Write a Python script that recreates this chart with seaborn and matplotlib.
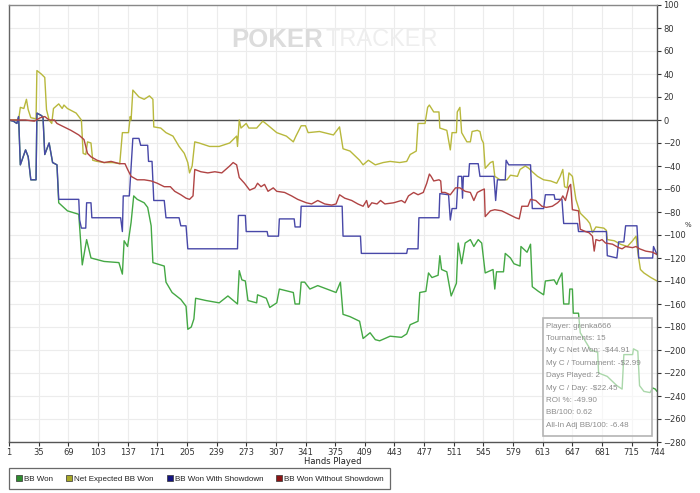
import matplotlib
matplotlib.use('Agg')
import matplotlib.pyplot as plt
import seaborn as sns
import pandas as pd
from matplotlib.lines import Line2D
from matplotlib.patches import Rectangle

# (hand, value) breakpoints
bb_won = [(1, 0), (6, -1), (10, -3), (12, 3), (14, -39), (20, -26), (23, -32), (26, -52), (32, -52), (33, 6),
          (40, 3), (42, -30), (47, -20), (51, -37), (56, -39), (58, -72), (68, -79), (81, -82), (85, -126),
          (90, -104), (95, -120), (110, -123), (127, -124), (131, -134), (133, -105), (137, -110), (141, -89),
          (144, -66), (148, -69), (156, -72), (160, -76), (164, -92), (166, -124), (179, -127), (181, -141),
          (188, -150), (198, -156), (204, -162), (206, -182), (210, -180), (213, -173), (215, -155), (227, -157),
          (242, -159), (252, -153), (263, -160), (265, -131), (268, -139), (272, -140), (275, -157), (285, -159),
          (286, -152), (296, -155), (300, -163), (308, -159), (311, -147), (327, -150), (329, -160), (334, -160),
          (336, -141), (340, -141), (346, -147), (355, -144), (376, -150), (381, -141), (384, -169), (392, -171),
          (403, -175), (407, -190), (415, -185), (421, -191), (426, -192), (438, -188), (451, -189), (457, -186),
          (461, -178), (470, -175), (472, -150), (479, -149), (482, -133), (486, -137), (493, -135), (495, -118),
          (497, -130), (503, -132), (508, -153), (513, -144), (514, -142), (516, -107), (520, -125), (524, -107),
          (530, -104), (534, -110), (539, -104), (543, -107), (547, -133), (556, -130), (558, -147), (560, -132),
          (568, -132), (570, -116), (576, -120), (580, -125), (587, -127), (588, -110), (595, -115), (599, -108),
          (601, -145), (608, -149), (614, -152), (616, -140), (626, -139), (629, -143), (631, -139), (635, -133),
          (637, -160), (643, -160), (644, -147), (647, -147), (648, -168), (654, -168), (656, -185), (668, -200),
          (676, -202), (677, -220), (687, -223), (698, -231), (704, -234), (706, -204), (716, -204), (717, -199),
          (722, -201), (724, -231), (729, -236), (736, -237), (739, -233), (742, -234), (744, -236)]

net_expected = [(1, 0), (12, 0), (14, 11), (18, 10), (21, 18), (23, 9), (26, 2), (32, 1), (33, 43), (38, 40),
                (42, 37), (44, 9), (47, 0), (50, -3), (52, 10), (58, 14), (62, 10), (64, 13), (68, 10), (78, 6),
                (84, 0), (86, -29), (89, -30), (91, -19), (95, -20), (97, -35), (102, -36), (110, -37), (120, -37),
                (128, -38), (131, -11), (138, -11), (140, 3), (141, 0), (143, 26), (150, 20), (156, 18), (162, 21),
                (166, 18), (167, -6), (175, -7), (181, -11), (189, -14), (196, -23), (202, -29), (206, -37),
                (208, -46), (211, -40), (214, -19), (219, -20), (231, -23), (242, -23), (254, -20), (262, -14),
                (263, -23), (265, 0), (267, -7), (273, -3), (276, -7), (285, -7), (292, -1), (297, -4), (308, -11),
                (319, -14), (327, -19), (330, -14), (336, -5), (341, -5), (344, -11), (357, -10), (373, -13),
                (380, -6), (384, -25), (392, -27), (403, -35), (407, -39), (413, -35), (421, -39), (430, -37),
                (438, -36), (449, -37), (457, -36), (461, -30), (468, -27), (470, -3), (478, -3), (481, 11),
                (483, 13), (488, 7), (494, 7), (495, -7), (503, -9), (507, -26), (509, -11), (514, -11), (515, 7),
                (518, 11), (520, -11), (526, -19), (530, -19), (532, -10), (538, -9), (541, -10), (543, -17),
                (545, -20), (547, -42), (553, -37), (556, -36), (558, -49), (564, -52), (572, -52), (576, -48),
                (584, -49), (587, -43), (593, -40), (597, -42), (601, -45), (607, -49), (614, -52), (622, -53),
                (629, -55), (633, -49), (636, -43), (638, -58), (641, -59), (643, -46), (647, -49), (651, -69),
                (656, -81), (660, -84), (664, -87), (667, -90), (670, -98), (674, -93), (683, -94), (686, -96),
                (687, -104), (695, -105), (702, -108), (710, -110), (716, -105), (720, -101), (722, -115),
                (725, -130), (729, -133), (737, -137), (744, -140)]

won_showdown = [(1, 0), (6, -1), (10, -3), (12, 3), (14, -39), (20, -26), (23, -32), (26, -52), (32, -52), (33, 6),
                (38, 4), (40, 2), (42, -30), (47, -20), (51, -37), (56, -39), (58, -69), (81, -69), (82, -87),
                (84, -94), (89, -94), (90, -72), (95, -72), (96, -85), (129, -85), (131, -97), (132, -66),
                (139, -66), (143, -16), (150, -16), (152, -22), (160, -22), (161, -36), (165, -36), (167, -70),
                (179, -70), (181, -85), (196, -85), (198, -92), (204, -92), (206, -112), (263, -112), (264, -83),
                (272, -83), (273, -97), (297, -97), (298, -101), (310, -101), (311, -86), (328, -86), (329, -93),
                (335, -93), (336, -75), (383, -75), (384, -101), (404, -101), (405, -116), (457, -116), (458, -112),
                (470, -112), (471, -85), (494, -85), (495, -64), (505, -65), (507, -87), (509, -77), (514, -77),
                (516, -49), (520, -49), (521, -68), (522, -49), (528, -49), (529, -38), (539, -38), (541, -49),
                (557, -49), (559, -70), (561, -52), (570, -52), (571, -35), (574, -39), (599, -39), (601, -77),
                (614, -77), (616, -65), (626, -65), (627, -69), (635, -69), (637, -90), (653, -90), (654, -97),
                (686, -97), (687, -118), (698, -120), (700, -106), (706, -106), (708, -92), (721, -92), (723, -120),
                (739, -120), (740, -110), (744, -117)]

won_no_showdown = [(1, 0), (20, 0), (30, -1), (37, 2), (42, 3), (47, 0), (53, 0), (56, -3), (64, -6), (72, -9),
                   (81, -13), (87, -17), (91, -29), (95, -32), (102, -35), (110, -37), (118, -36), (128, -38),
                   (134, -38), (137, -43), (141, -49), (148, -52), (156, -52), (164, -53), (171, -55), (179, -58),
                   (186, -58), (191, -62), (198, -65), (204, -68), (208, -69), (212, -66), (214, -43), (221, -45),
                   (229, -46), (237, -45), (245, -46), (254, -40), (258, -37), (262, -39), (265, -50), (271, -55),
                   (277, -61), (283, -59), (286, -55), (290, -58), (294, -56), (298, -62), (304, -59), (308, -62),
                   (317, -63), (325, -66), (332, -69), (342, -72), (348, -73), (355, -70), (363, -73), (371, -74),
                   (376, -73), (378, -69), (380, -65), (386, -68), (394, -70), (401, -73), (407, -75), (411, -70),
                   (413, -76), (417, -72), (423, -73), (427, -70), (432, -73), (442, -72), (451, -70), (455, -72),
                   (459, -66), (465, -63), (470, -65), (476, -63), (480, -55), (483, -47), (485, -49), (488, -53),
                   (494, -52), (496, -53), (497, -63), (501, -63), (507, -65), (513, -59), (518, -59), (524, -62),
                   (530, -63), (534, -70), (538, -63), (543, -61), (546, -60), (547, -84), (553, -79), (558, -78),
                   (566, -79), (574, -82), (582, -85), (586, -86), (589, -75), (596, -75), (599, -69), (605, -70),
                   (612, -75), (617, -76), (624, -75), (630, -72), (634, -69), (636, -66), (639, -70), (643, -58),
                   (645, -56), (647, -78), (654, -79), (656, -95), (662, -97), (666, -98), (670, -101), (672, -114),
                   (674, -104), (678, -105), (681, -104), (685, -107), (693, -108), (700, -111), (704, -112),
                   (708, -110), (716, -111), (720, -110), (724, -112), (731, -114), (739, -115), (744, -117)]

series_names = ['BB Won', 'Net Expected BB Won', 'BB Won With Showdown', 'BB Won Without Showdown']
line_colors = ['#44a844', '#b8b83c', '#4848a8', '#b04444']
legend_colors = ['#2e8b2e', '#a8a828', '#141480', '#8b1414']

x_ticks = [1, 35, 69, 103, 137, 171, 205, 239, 273, 307, 341, 375, 409, 443, 477, 511, 545, 579, 613, 647, 681, 715, 744]
y_ticks = list(range(-280, 101, 20))

info_lines = ['Player: grenka666', 'Tournaments: 15', 'My C Net Won: -$44.91', 'My C / Tournament: -$2.99',
              'Days Played: 2', 'My C / Day: -$22.45', 'ROI %: -49.90', 'BB/100: 0.62', 'All-In Adj BB/100: -6.48']

sns.set_style('white')
plt.rcParams['font.family'] = ['DejaVu Sans']

fig = plt.figure(figsize=(7, 4.93), dpi=100)
ax = fig.add_axes([9 / 700, 1 - 442 / 493, 648 / 700, 437 / 493])

for v in y_ticks:
    ax.axhline(v, color='#ececec', lw=0.8, zorder=0)
for v in x_ticks:
    ax.axvline(v, color='#ececec', lw=0.8, zorder=0)
ax.axhline(0, color='#505050', lw=1.0, zorder=1)

for name, data, col in zip(series_names, [bb_won, net_expected, won_showdown, won_no_showdown], line_colors):
    df = pd.DataFrame(data, columns=['hand', 'value'])
    sns.lineplot(x='hand', y='value', data=df, ax=ax, color=col, lw=1.0,
                 sort=False, estimator=None, zorder=2)

ax.set_xlim(1, 744)
ax.set_ylim(-280, 100)
ax.set_xticks(x_ticks)
ax.set_yticks(y_ticks)
ax.yaxis.tick_right()
ax.tick_params(axis='both', labelsize=6, colors='#333333', length=3, width=0.8, pad=1.5)
ax.tick_params(axis='y', direction='out', right=True, left=False)
ax.tick_params(axis='x', direction='out', bottom=True)
ax.set_xlabel('')
ax.set_ylabel('')
fig.text(333 / 700, 1 - 462 / 493, 'Hands Played', fontsize=6, color='#222222', ha='center', va='center')
for side, c in [('left', '#666666'), ('bottom', '#555555'), ('right', '#555555'), ('top', '#888888')]:
    ax.spines[side].set_visible(True)
    ax.spines[side].set_color(c)
    ax.spines[side].set_linewidth(1.0)

fig.text(688 / 700, 1 - 225 / 493, '%', fontsize=5, color='#333333', ha='center', va='center')

# watermark
ax.text(0.4846, 0.92, 'POKER', transform=ax.transAxes, ha='right', va='center', fontsize=18.5,
        fontweight='bold', color='#dcdcdc', family='Liberation Sans', zorder=0.5)
ax.text(0.488, 0.92, 'TRACKER', transform=ax.transAxes, ha='left', va='center', fontsize=17,
        color='#eeeeee', family='Liberation Sans', zorder=0.5)

# stats box
ax.add_patch(Rectangle((0.824, 0.0137), 0.168, 0.27, transform=ax.transAxes, facecolor='white', alpha=0.55,
                       edgecolor='none', zorder=3))
ax.add_patch(Rectangle((0.824, 0.0137), 0.168, 0.27, transform=ax.transAxes, facecolor='none',
                       edgecolor='#b4b4b4', lw=1.2, zorder=4))
for i, line in enumerate(info_lines):
    ax.text(0.829, 0.265 - i * 0.0283, line, transform=ax.transAxes, fontsize=5.8, color='#8c8c8c',
            ha='left', va='center', family='Liberation Sans', zorder=5)

handles = [Line2D([], [], marker='s', ls='none', markersize=4.5, markerfacecolor=c, markeredgecolor='#333333',
                  markeredgewidth=0.5) for c in legend_colors]
leg = fig.legend(handles, series_names, loc='lower left', bbox_to_anchor=(9 / 700, 1 - 489 / 493), ncol=4,
                 prop={'family': 'Liberation Sans', 'size': 5.8}, frameon=True, fancybox=False,
                 edgecolor='#444444', handletextpad=0.1, columnspacing=1.5, borderpad=0.8, handlelength=1.0,
                 borderaxespad=0, labelcolor='#222222')
leg.get_frame().set_linewidth(0.9)

fig.savefig('out.png', dpi=100, facecolor='white')
